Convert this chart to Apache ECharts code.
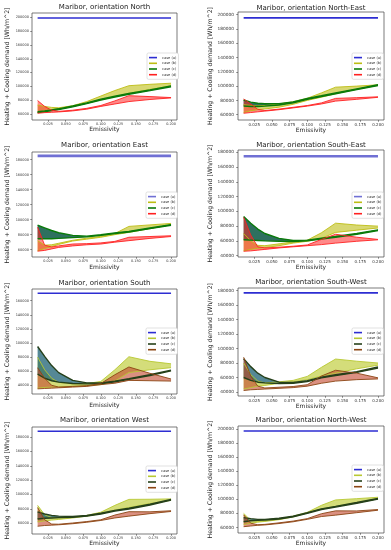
<!DOCTYPE html>
<html><head><meta charset="utf-8">
<script src="https://cdn.jsdelivr.net/npm/echarts@6/dist/echarts.min.js"></script>
<style>html,body{margin:0;padding:0;background:#fff}#c{width:391px;height:550px}</style>
</head><body><div id="c"></div><script>
// ---------- data ----------
const X = [0.01, 0.02, 0.03, 0.04, 0.06, 0.08, 0.10, 0.12, 0.14, 0.17, 0.20];
const AX = [0.01, 0.20];
const xTicks = [0.025, 0.05, 0.075, 0.1, 0.125, 0.15, 0.175, 0.2];
const caseNames = ['case (a)', 'case (b)', 'case (c)', 'case (d)'];
const titles = ['Maribor, orientation North', 'Maribor, orientation North-East', 'Maribor, orientation East', 'Maribor, orientation South-East',
  'Maribor, orientation South', 'Maribor, orientation South-West', 'Maribor, orientation West', 'Maribor, orientation North-West'];
const yTicks60_200 = [60000, 80000, 100000, 120000, 140000, 160000, 180000, 200000];
const yTicks60_180 = [60000, 80000, 100000, 120000, 140000, 160000, 180000];
const yTicks40_180 = [40000, 60000, 80000, 100000, 120000, 140000, 160000, 180000];
const yTicks40_160 = [40000, 60000, 80000, 100000, 120000, 140000, 160000];

const N_a = [199000, 199000];
const N_bLo = [62500, 64500, 66500, 68000, 71000, 75500, 80500, 85000, 90000, 95500, 100700];
const N_bHi = [73000, 71000, 69500, 69000, 72000, 78000, 86000, 94000, 101000, 103000, 104600];
const N_cLo = [62000, 63300, 64800, 66300, 70300, 75000, 80300, 84600, 88600, 93800, 99500];
const N_cHi = [63200, 64500, 66000, 67500, 71500, 76200, 81500, 85800, 89800, 95000, 100700];
const N_dLo = [61000, 62000, 62500, 63000, 64500, 67000, 71000, 74500, 78000, 81000, 83300];
const N_dHi = [79500, 71000, 65500, 63800, 65500, 68200, 72300, 79000, 86500, 85200, 83800];

const NE_a = [195500, 195500];
const NE_bLo = [63000, 65500, 67000, 68000, 70500, 74500, 80000, 84500, 89300, 95500, 101000];
const NE_bHi = [74000, 73000, 72500, 72800, 75000, 78000, 83000, 90500, 98500, 100000, 101800];
const NE_cLo = [72000, 71500, 71500, 72000, 73500, 76500, 81500, 85300, 89300, 95000, 100800];
const NE_cHi = [80500, 77500, 76000, 75200, 75500, 77700, 82700, 86500, 90500, 96200, 102000];
const NE_dLo = [62000, 63000, 64000, 65000, 67000, 69500, 72000, 75000, 79000, 81500, 84300];
const NE_dHi = [82000, 75000, 67500, 65800, 67800, 70300, 72800, 76500, 82800, 83800, 85000];

const E_a = [185000, 185000];
const E_bLo = [58500, 61500, 64000, 67000, 71500, 74000, 76500, 80000, 83000, 88000, 93000];
const E_bHi = [72000, 66000, 66500, 68500, 72500, 75300, 77800, 81500, 91000, 93000, 95000];
const E_cLo = [74500, 74500, 74500, 75000, 76000, 77000, 79000, 81500, 83500, 88000, 92500];
const E_cHi = [92500, 89000, 85500, 82500, 79000, 78000, 79800, 82300, 84300, 88800, 93300];
const E_dLo = [58000, 59000, 61000, 63000, 65000, 66500, 67500, 70000, 72000, 75000, 77500];
const E_dHi = [90000, 66000, 63500, 65000, 67500, 68000, 69000, 71000, 76500, 77500, 78500];

const SE_a = [174700, 174700];
const SE_bLo = [46500, 48500, 50000, 51000, 53500, 57000, 59500, 63500, 71500, 74500, 77500];
const SE_bHi = [70000, 60000, 54000, 53500, 56000, 58500, 61000, 71000, 84000, 81500, 80000];
const SE_cLo = [61500, 61000, 60500, 60000, 59500, 59000, 60000, 62500, 65000, 69000, 74000];
const SE_cHi = [93000, 84000, 76000, 70000, 63500, 60500, 61000, 63500, 66000, 70000, 75000];
const SE_dLo = [46000, 46500, 47500, 48500, 50500, 52000, 53500, 55000, 57000, 59500, 61500];
const SE_dHi = [92000, 68000, 52000, 50500, 51500, 52800, 54500, 62000, 69000, 65000, 62000];

const S_a = [170500, 170500];
const S_bLo = [36000, 37000, 37500, 38000, 38500, 39500, 41000, 46000, 58000, 62000, 65000];
const S_bHi = [80000, 62000, 50000, 44000, 42000, 42500, 45500, 62000, 80500, 74000, 70500];
const S_cLo = [56000, 50000, 46500, 44500, 42500, 42000, 42300, 45000, 48500, 54000, 60500];
const S_cHi = [95000, 81000, 68000, 58000, 47000, 43500, 43300, 46000, 49500, 55000, 61500];
const S_dLo = [35000, 35500, 36000, 36500, 37500, 38500, 41000, 43000, 47000, 46500, 46000];
const S_dHi = [65000, 50000, 40000, 37500, 38500, 39500, 42500, 55000, 66000, 57000, 49000];

const SW_a = [176900, 176900];
const SW_bLo = [44000, 46000, 48000, 49000, 52000, 54000, 57000, 62000, 66000, 72000, 77000];
const SW_bHi = [80000, 64000, 55000, 52500, 54000, 56000, 61500, 74000, 85500, 82500, 80000];
const SW_cLo = [60000, 56000, 53500, 52500, 51500, 52000, 54500, 59500, 62800, 67000, 73000];
const SW_cHi = [86000, 75000, 66000, 60000, 53500, 53000, 55500, 60500, 63800, 68000, 74500];
const SW_dLo = [42000, 43000, 43500, 44000, 45000, 46000, 48000, 52000, 55000, 57000, 58000];
const SW_dHi = [88000, 62000, 48000, 45500, 46500, 47500, 50000, 62000, 70000, 66000, 59500];

const W_a = [188000, 188000];
const W_bLo = [62000, 63500, 64500, 65500, 67500, 70000, 73500, 78500, 82000, 87500, 92000];
const W_bHi = [85000, 72000, 68000, 67500, 68500, 71000, 75500, 85000, 93300, 93500, 94000];
const W_cLo = [66000, 67000, 67500, 68000, 68500, 70000, 73000, 77000, 80000, 85500, 92300];
const W_cHi = [76000, 73000, 71000, 70000, 69500, 71000, 74000, 78000, 81000, 86500, 93300];
const W_dLo = [56000, 57000, 57500, 58000, 59500, 61500, 64000, 67500, 70000, 73500, 76500];
const W_dHi = [82000, 65000, 59000, 58800, 60500, 62500, 65000, 71500, 76200, 76000, 77500];

const NW_a = [197600, 197600];
const NW_bLo = [64000, 66000, 67500, 68500, 71000, 75000, 80500, 86500, 90000, 95500, 101000];
const NW_bHi = [80000, 70000, 69000, 69500, 72000, 76000, 81500, 91500, 99200, 101000, 103000];
const NW_cLo = [68000, 69500, 70000, 70500, 72000, 75000, 80000, 85500, 89000, 94500, 100300];
const NW_cHi = [74000, 72500, 71500, 71500, 73000, 76000, 81000, 86500, 90000, 95500, 101300];
const NW_dLo = [61000, 62000, 63000, 63500, 65500, 68000, 71500, 75500, 77500, 81000, 84500];
const NW_dHi = [78000, 66000, 63800, 64300, 66500, 69000, 72500, 79500, 83600, 83500, 85500];

// ---------- layout / style ----------
const topStyle = {
  a: ['#2d2dd2', 1.6],
  b: ['#bdbd14', 'rgba(190,190,20,0.6)'],
  c: ['#0a7a0a', 'rgba(0,80,60,0.82)'],
  d: ['#ff2020', 'rgba(255,40,40,0.55)']
};
const midStyle = Object.assign({}, topStyle, {a: ['#7070d4', 2.6]});
const lowStyle = {
  a: ['#2d2dd2', 1.6],
  b: ['#b8c832', 'rgba(185,200,40,0.62)'],
  c: ['#26401a', 'rgba(20,90,110,0.72)'],
  d: ['#8b4513', 'rgba(195,70,45,0.6)']
};
const panels = [
  {d:[N_a,N_bLo,N_bHi,N_cLo,N_cHi,N_dLo,N_dHi], yr:[51300,206300], yt:yTicks60_200, g:[32,13,145,107], ty:3.3, xg:5.5, side:0, lg:[147,53], st:topStyle},
  {d:[NE_a,NE_bLo,NE_bHi,NE_cLo,NE_cHi,NE_dLo,NE_dHi], yr:[52560,203700], yt:yTicks60_200, g:[238,12,146,108], ty:4.3, xg:6.5, side:1, lg:[352,53], st:topStyle},
  {d:[E_a,E_bLo,E_bHi,E_cLo,E_cHi,E_dLo,E_dHi], yr:[50200,190200], yt:yTicks60_180, g:[32,152,145,105], ty:142, xg:7.5, side:0, lg:[146,192], st:midStyle},
  {d:[SE_a,SE_bLo,SE_bHi,SE_cLo,SE_cHi,SE_dLo,SE_dHi], yr:[38200,183100], yt:yTicks40_180, g:[238,150,146,107], ty:141.3, xg:7.8, side:1, lg:[352,192], st:midStyle},
  {d:[S_a,S_bLo,S_bHi,S_cLo,S_cHi,S_dLo,S_dHi], yr:[27700,176500], yt:yTicks40_160, g:[32,289,145,105], ty:279.3, xg:8.5, side:0, lg:[146,328], st:lowStyle},
  {d:[SW_a,SW_bLo,SW_bHi,SW_cLo,SW_cHi,SW_dLo,SW_dHi], yr:[34400,183700], yt:yTicks40_180, g:[238,288,146,108], ty:279, xg:6.8, side:1, lg:[352,328], st:lowStyle},
  {d:[W_a,W_bLo,W_bHi,W_cLo,W_cHi,W_dLo,W_dHi], yr:[45200,193900], yt:yTicks60_180, g:[32,427,145,107], ty:416.7, xg:5.5, side:0, lg:[146,466], st:lowStyle},
  {d:[NW_a,NW_bLo,NW_bHi,NW_cLo,NW_cHi,NW_dLo,NW_dHi], yr:[52000,204700], yt:yTicks60_200, g:[238,426,146,107], ty:416.7, xg:6.2, side:1, lg:[352,465], st:lowStyle}
];

const FONT = 'DejaVu Sans';
const grid = [], xAxis = [], yAxis = [], series = [], legend = [], title = [];

panels.forEach((p, i) => {
  const [gl, gt, gw, gh] = p.g;
  const small = p.side === 0;
  grid.push({left: gl, top: gt, width: gw, height: gh, show: true, borderColor: '#444', borderWidth: 0.7, backgroundColor: '#fff'});
  title.push({text: titles[i], left: gl + gw / 2, top: p.ty, textAlign: 'center', padding: 0,
    textStyle: {fontFamily: FONT, fontSize: 7, fontWeight: 'normal', color: '#222'}});
  xAxis.push({type: 'value', gridIndex: i, min: 0.002, max: 0.2085,
    name: 'Emissivity', nameLocation: 'middle', nameGap: p.xg,
    nameTextStyle: {fontFamily: FONT, fontSize: 6, color: '#222'},
    axisLine: {show: false}, splitLine: {show: false},
    axisTick: {show: true, length: 1.8, customValues: xTicks, lineStyle: {color: '#444', width: 0.6}},
    axisLabel: {customValues: xTicks, fontFamily: FONT, fontSize: small ? 3.4 : 4.0, color: '#333', margin: 2.5,
      formatter: v => v.toFixed(3)}});
  yAxis.push({type: 'value', gridIndex: i, min: p.yr[0], max: p.yr[1],
    name: 'Heating + Cooling demand [Wh/m^2]', nameLocation: 'middle', nameGap: small ? 21.5 : 19.5,
    nameTextStyle: {fontFamily: FONT, fontSize: 6.2, color: '#222'},
    axisLine: {show: false}, splitLine: {show: false},
    axisTick: {show: true, length: 1.8, customValues: p.yt, lineStyle: {color: '#444', width: 0.6}},
    axisLabel: {customValues: p.yt, fontFamily: FONT, fontSize: small ? 3.5 : 4.3, color: '#333', margin: small ? 3 : 4,
      formatter: v => String(Math.round(v))}});

  const st = p.st;
  const [a, bLo, bHi, cLo, cHi, dLo, dHi] = p.d;
  const nm = k => i + '|' + k;
  series.push({type: 'line', name: nm(caseNames[0]), xAxisIndex: i, yAxisIndex: i, symbol: 'none', silent: true,
    data: AX.map((x, j) => [x, a[j]]), itemStyle: {color: st.a[0]}, lineStyle: {color: st.a[0], width: st.a[1]}});
  const band = (key, lo, hi, col, lw) => {
    series.push({type: 'custom', name: nm(key + '-fill'), xAxisIndex: i, yAxisIndex: i, silent: true, clip: true,
      data: X.map((x, j) => [x, lo[j], hi[j]]), encode: {x: 0, y: [1, 2]},
      renderItem: (params, api) => {
        if (params.dataIndex !== 0) return null;
        const pts = [];
        for (let j = 0; j < X.length; j++) pts.push(api.coord([X[j], hi[j]]));
        for (let j = X.length - 1; j >= 0; j--) pts.push(api.coord([X[j], lo[j]]));
        return {type: 'polygon', shape: {points: pts}, style: {fill: col[1], stroke: null}};
      }});
    series.push({type: 'line', name: nm(key + '-low'), xAxisIndex: i, yAxisIndex: i, symbol: 'none', silent: true,
      data: X.map((x, j) => [x, lo[j]]), itemStyle: {color: col[0]}, lineStyle: {color: col[0], width: lw}});
    series.push({type: 'line', name: nm(caseNames['abcd'.indexOf(key)]), xAxisIndex: i, yAxisIndex: i, symbol: 'none', silent: true,
      data: X.map((x, j) => [x, hi[j]]), itemStyle: {color: col[0]}, lineStyle: {color: col[0], width: lw}});
  };
  band('b', bLo, bHi, st.b, 0.9);
  band('c', cLo, cHi, st.c, 1.4);
  band('d', dLo, dHi, st.d, 0.9);

  legend.push({data: caseNames.map(nm), orient: 'vertical', left: p.lg[0], top: p.lg[1],
    icon: 'rect', itemWidth: 8, itemHeight: 1.6, itemGap: 1.5, selectedMode: false,
    padding: [2.5, 2, 2.5, 2], backgroundColor: '#fff', borderColor: '#ccc', borderWidth: 0.6, borderRadius: 1.5,
    formatter: n => n.split('|')[1],
    textStyle: {fontFamily: FONT, fontSize: 3.6, lineHeight: 4.2, color: '#333'}});
});

const chart = echarts.init(document.getElementById('c'), null, {renderer: 'canvas'});
chart.setOption({animation: false, backgroundColor: '#fff', title, grid, xAxis, yAxis, series, legend, tooltip: {show: false}});
</script></body></html>
